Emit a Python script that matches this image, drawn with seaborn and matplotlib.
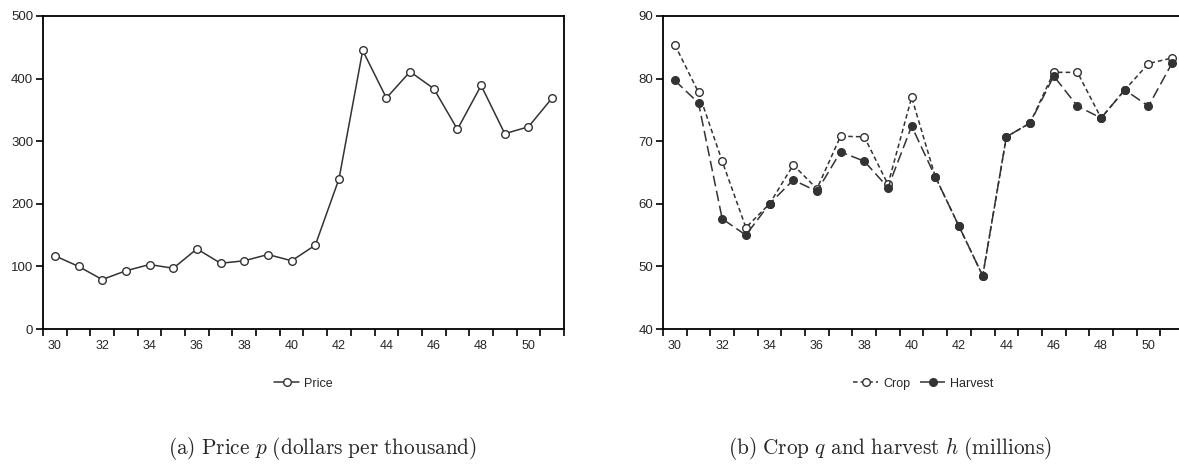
import pandas as pd
import seaborn as sns
import matplotlib.pyplot as plt

sns.set_style("white")
plt.rcParams['font.family'] = ['Liberation Sans Narrow', 'Liberation Sans', 'DejaVu Sans']
plt.rcParams['mathtext.fontset'] = 'cm'

years = list(range(30, 52))
price = [117, 100, 79, 93, 103, 97, 128, 105, 109, 119, 109, 134,
         240, 445, 369, 411, 384, 319, 389, 312, 323, 369]
crop = [85.4, 77.8, 66.8, 56.2, 60.0, 66.2, 62.4, 70.8, 70.7, 63.1, 77.0,
        64.3, 56.4, 48.5, 70.7, 72.9, 81.0, 81.0, 73.7, 78.2, 82.4, 83.3]
harvest = [79.7, 76.1, 57.6, 55.0, 60.0, 63.8, 62.0, 68.3, 66.8, 62.6, 72.4,
           64.3, 56.4, 48.5, 70.7, 72.9, 80.4, 75.6, 73.7, 78.2, 75.6, 82.5]
even_years = list(range(30, 52, 2))

df = pd.DataFrame({'year': years, 'price': price, 'crop': crop, 'harvest': harvest})

ink = '#333333'
fig = plt.figure(figsize=(11.79, 4.71), dpi=100)
ax_a = fig.add_axes([43 / 1179, 1 - 329 / 471, 521 / 1179, 313 / 471])
ax_b = fig.add_axes([663 / 1179, 1 - 329 / 471, 521 / 1179, 313 / 471])

sns.lineplot(data=df, x='year', y='price', ax=ax_a, color=ink, lw=1.1,
             marker='o', ms=5.5, mfc='white', mec=ink, mew=1, label='Price')

sns.lineplot(data=df, x='year', y='crop', ax=ax_b, color=ink, lw=1.1,
             ls=(0, (3, 2)), marker='o', ms=5.5, mfc='white', mec=ink, mew=1,
             label='Crop')
sns.lineplot(data=df, x='year', y='harvest', ax=ax_b, color=ink, lw=1.1,
             ls=(0, (7, 3)), marker='o', ms=5.5, mfc=ink, mec=ink, mew=1,
             label='Harvest')

ax_a.set_ylim(0, 500)
ax_a.set_yticks([0, 100, 200, 300, 400, 500])
ax_b.set_ylim(40, 90)
ax_b.set_yticks([40, 50, 60, 70, 80, 90])

for ax in (ax_a, ax_b):
    ax.set_xlim(29.5, 51.5)
    ax.set_xticks(even_years)
    ax.set_xticks([y + 0.5 for y in range(29, 52)], minor=True)
    ax.tick_params(axis='x', which='major', length=0, pad=8, labelsize=9)
    ax.tick_params(axis='x', which='minor', length=5, width=1.2, color='black',
                   direction='out', bottom=True)
    ax.tick_params(axis='y', length=5, width=1.2, color='black', direction='out',
                   left=True, labelsize=9.5, pad=2)
    for s in ax.spines.values():
        s.set_color('black')
        s.set_linewidth(1.3)
    ax.set_xlabel('')
    ax.set_ylabel('')
    ax.legend(loc='upper center', bbox_to_anchor=(0.5, -0.12), frameon=False,
              ncol=2, fontsize=9, handlelength=2.0, handletextpad=0.4,
              columnspacing=0.8)

fig.text(322 / 1179, 1 - 449 / 471,
         r'$\mathrm{(a)\ Price\ }p\mathrm{\ (dollars\ per\ thousand)}$',
         ha='center', va='center', fontsize=15.3)
fig.text(890 / 1179, 1 - 449 / 471,
         r'$\mathrm{(b)\ Crop\ }q\mathrm{\ and\ harvest\ }h\mathrm{\ (millions)}$',
         ha='center', va='center', fontsize=15.3)

fig.savefig('out.png', dpi=100)
plt.close()
